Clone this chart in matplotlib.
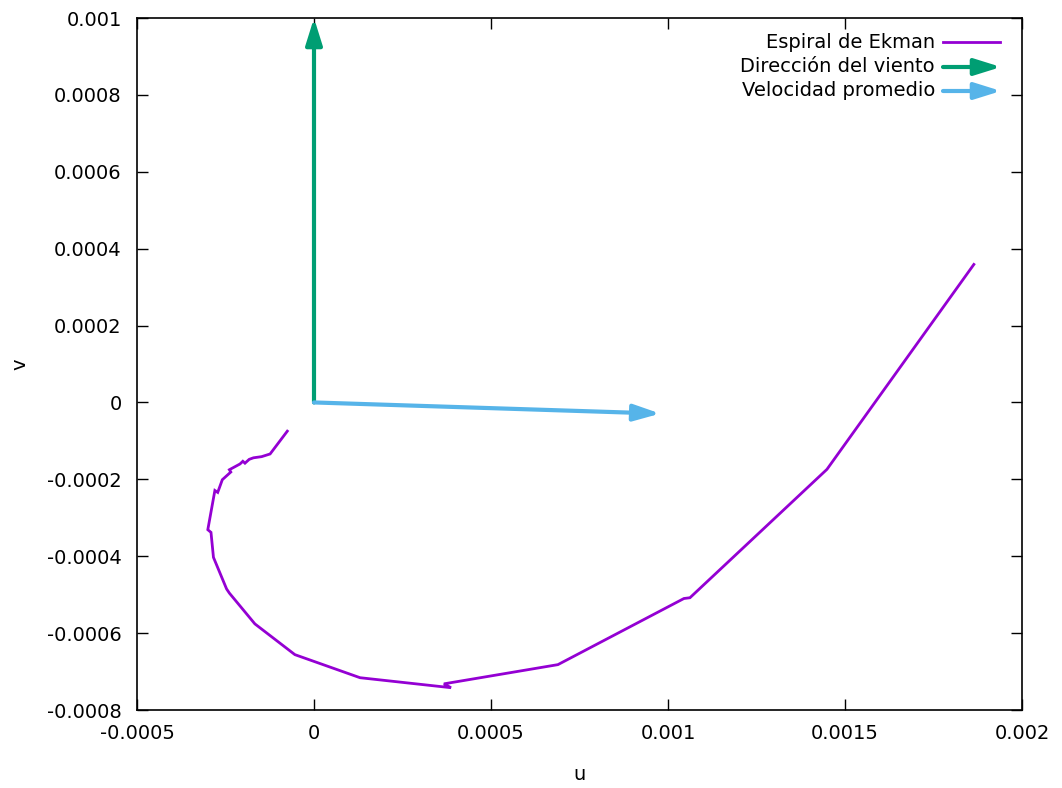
import matplotlib
matplotlib.use("Agg")
import matplotlib.pyplot as plt
from matplotlib.lines import Line2D

# Data (units: m/s)
spiral_u = [1.864e-3, 1.449e-3, 1.062e-3, 1.045e-3, 0.689e-3, 0.367e-3, 0.387e-3,
            0.130e-3, -0.054e-3, -0.167e-3, -0.239e-3, -0.247e-3, -0.284e-3,
            -0.291e-3, -0.300e-3, -0.280e-3, -0.272e-3, -0.259e-3, -0.235e-3,
            -0.239e-3, -0.209e-3, -0.201e-3, -0.195e-3, -0.183e-3, -0.171e-3,
            -0.148e-3, -0.124e-3, -0.0754e-3]
spiral_v = [0.359e-3, -0.174e-3, -0.508e-3, -0.510e-3, -0.682e-3, -0.732e-3, -0.742e-3,
            -0.716e-3, -0.656e-3, -0.576e-3, -0.496e-3, -0.485e-3, -0.403e-3,
            -0.338e-3, -0.331e-3, -0.229e-3, -0.234e-3, -0.201e-3, -0.181e-3,
            -0.175e-3, -0.160e-3, -0.153e-3, -0.158e-3, -0.148e-3, -0.144e-3,
            -0.141e-3, -0.134e-3, -0.0747e-3]
wind_vec = (0.0, 0.001)
mean_vec = (0.978e-3, -0.0290e-3)

xticks = [-0.0005, 0, 0.0005, 0.001, 0.0015, 0.002]
xticklabels = ["-0.0005", "0", "0.0005", "0.001", "0.0015", "0.002"]
yticks = [-0.0008, -0.0006, -0.0004, -0.0002, 0, 0.0002, 0.0004, 0.0006, 0.0008, 0.001]
yticklabels = ["-0.0008", "-0.0006", "-0.0004", "-0.0002", "0", "0.0002", "0.0004",
               "0.0006", "0.0008", "0.001"]

labels = ["Espiral de Ekman", "Dirección del viento", "Velocidad promedio"]
c_spiral = "#9400d3"
c_wind = "#009e73"
c_mean = "#56b4e9"

FS = 14
plt.rcParams['font.family'] = ['DejaVu Sans']
fig = plt.figure(figsize=(10.62, 7.88), dpi=100)
ax = fig.add_axes([137/1062, 1 - 710/788, (1022-137)/1062, (710-18)/788])

ax.plot(spiral_u, spiral_v, color=c_spiral, lw=2.0, solid_joinstyle='miter')

ASTYLE = '-|>,head_length=1.6,head_width=0.5'

def arrow(ax, start, end, color, coords='data'):
    ax.annotate('', xy=end, xytext=start, xycoords=coords, textcoords=coords,
                arrowprops=dict(arrowstyle=ASTYLE, lw=3, color=color,
                                shrinkA=0, shrinkB=0, mutation_scale=10),
                annotation_clip=False)

arrow(ax, (0, 0), wind_vec, c_wind)
arrow(ax, (0, 0), mean_vec, c_mean)

ax.set_xlim(-0.0005, 0.002)
ax.set_ylim(-0.0008, 0.001)
ax.set_xticks(xticks)
ax.set_xticklabels(xticklabels)
ax.set_yticks(yticks)
ax.set_yticklabels(yticklabels)
ax.tick_params(direction='in', length=8, width=1, top=True, right=True,
               labelsize=FS)
ax.tick_params(axis='x', pad=10)
ax.tick_params(axis='y', pad=11)
for s in ax.spines.values():
    s.set_linewidth(1.2)
ax.set_xlabel("u", fontsize=FS, labelpad=16)
fig.text(20/1062, 1 - 364/788, "v", rotation=90, ha='center', va='center', fontsize=FS)

# Legend (gnuplot style: text right-aligned, sample on the right)
ly = [42, 67, 91]
for i, (lab, y) in enumerate(zip(labels, ly)):
    fy = 1 - y / 788
    fig.text(935/1062, fy, lab, ha='right', va='center', fontsize=FS)
    if i == 0:
        fig.add_artist(Line2D([943/1062, 1000/1062], [fy, fy], color=c_spiral, lw=2.0))
    else:
        col = c_wind if i == 1 else c_mean
        ax.annotate('', xy=(1001/1062, fy), xytext=(943/1062, fy),
                    xycoords='figure fraction', textcoords='figure fraction',
                    arrowprops=dict(arrowstyle=ASTYLE, lw=3, color=col,
                                    shrinkA=0, shrinkB=0, mutation_scale=10),
                    annotation_clip=False)

fig.savefig("out.png", dpi=100)
